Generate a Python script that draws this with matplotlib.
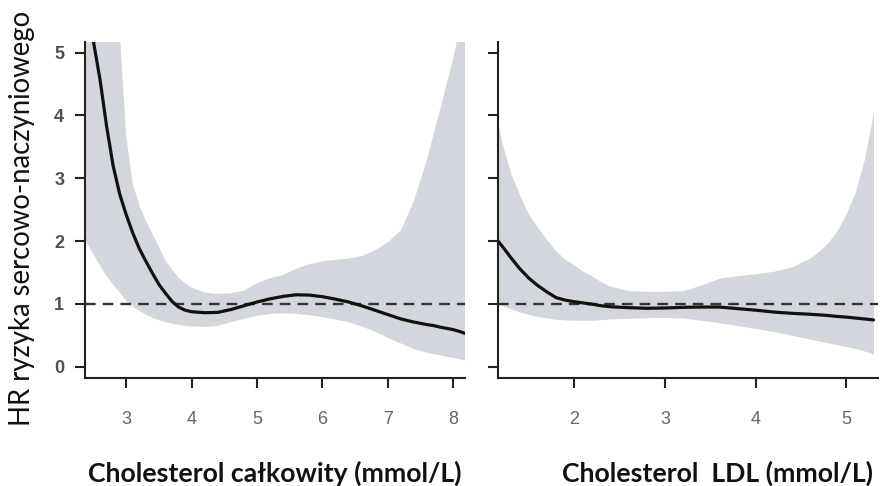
import matplotlib
matplotlib.use("Agg")
import matplotlib.pyplot as plt
from matplotlib import font_manager as fm

# ---- Total cholesterol (mmol/L): hazard ratio with 95% CI ----
tc_x = [2.37, 2.45, 2.5, 2.6, 2.7, 2.8, 2.9,
        3.0, 3.1, 3.2, 3.3, 3.4, 3.5, 3.6, 3.7, 3.8, 3.9,
        4.0, 4.2, 4.4, 4.6, 4.8, 5.0, 5.2, 5.4, 5.6, 5.8, 6.0, 6.2, 6.4, 6.6,
        6.8, 7.0, 7.2, 7.4, 7.6,
        7.7, 7.8, 7.9, 8.0, 8.1, 8.18]
tc_hr = [5.95, 5.47, 5.17, 4.57, 3.83, 3.20, 2.75,
         2.42, 2.13, 1.88, 1.68, 1.49, 1.31, 1.17, 1.04, 0.95, 0.90,
         0.875, 0.86, 0.865, 0.91, 0.97, 1.03, 1.08, 1.12, 1.145, 1.14, 1.115, 1.075, 1.03, 0.97,
         0.90, 0.83, 0.76, 0.71, 0.67,
         0.655, 0.63, 0.61, 0.59, 0.56, 0.53]
tc_lo = [2.02, 1.88, 1.79, 1.61, 1.44, 1.31, 1.18,
         1.05, 0.96, 0.89, 0.83, 0.78, 0.74, 0.71, 0.685, 0.665, 0.65,
         0.64, 0.635, 0.65, 0.71, 0.76, 0.81, 0.84, 0.85, 0.84, 0.82, 0.79, 0.75, 0.71, 0.64,
         0.56, 0.46, 0.37, 0.28, 0.22,
         0.20, 0.18, 0.16, 0.14, 0.12, 0.10]
tc_hi = [12.0, 10.8, 10.0, 8.8, 7.6, 6.6, 5.35,
         3.67, 2.92, 2.57, 2.33, 2.12, 1.91, 1.69, 1.55, 1.42, 1.33,
         1.26, 1.18, 1.16, 1.17, 1.21, 1.33, 1.41, 1.46, 1.56, 1.63, 1.68, 1.70, 1.72, 1.76,
         1.85, 1.98, 2.17, 2.64, 3.30,
         3.70, 4.10, 4.50, 4.90, 5.40, 6.00]

# ---- LDL cholesterol (mmol/L): hazard ratio with 95% CI ----
ldl_x = [1.16, 1.2, 1.3, 1.4, 1.5, 1.6, 1.7, 1.8, 1.9, 2.0, 2.1, 2.2, 2.3, 2.4,
         2.6, 2.8, 3.0, 3.2, 3.4, 3.6, 3.8, 4.0, 4.2, 4.4, 4.6,
         4.7, 4.8, 4.9, 5.0, 5.1, 5.2, 5.3]
ldl_hr = [2.00, 1.93, 1.74, 1.56, 1.41, 1.29, 1.19, 1.10, 1.06, 1.035, 1.015, 0.995, 0.97, 0.955,
          0.94, 0.93, 0.935, 0.945, 0.95, 0.95, 0.925, 0.90, 0.87, 0.85, 0.835,
          0.825, 0.815, 0.80, 0.79, 0.775, 0.76, 0.745]
ldl_lo = [1.00, 0.98, 0.92, 0.87, 0.83, 0.80, 0.775, 0.755, 0.745, 0.74, 0.74, 0.74, 0.75, 0.76,
          0.77, 0.78, 0.785, 0.775, 0.74, 0.70, 0.655, 0.61, 0.56, 0.50, 0.44,
          0.41, 0.38, 0.35, 0.32, 0.29, 0.25, 0.20]
ldl_hi = [3.90, 3.58, 3.08, 2.73, 2.42, 2.21, 2.02, 1.84, 1.71, 1.62, 1.52, 1.44, 1.35, 1.28,
          1.21, 1.20, 1.20, 1.21, 1.30, 1.41, 1.45, 1.48, 1.52, 1.59, 1.73,
          1.84, 1.98, 2.17, 2.44, 2.78, 3.30, 4.05]

tc_ticks = [3, 4, 5, 6, 7, 8]
ldl_ticks = [2, 3, 4, 5]
hr_ticks = [0, 1, 2, 3, 4, 5]

y_title = "HR ryzyka sercowo-naczyniowego"
tc_title = "Cholesterol całkowity (mmol/L)"
ldl_title = "Cholesterol  LDL (mmol/L)"


def pick(families, weight="normal"):
    for fam in families:
        try:
            fm.findfont(fm.FontProperties(family=fam, weight=weight),
                        fallback_to_default=False)
            return fam
        except Exception:
            continue
    return "DejaVu Sans"


narrow = pick(["Liberation Sans Narrow", "Liberation Sans", "Roboto"])
title_font = pick(["Lato", "Open Sans", "Noto Sans"], "bold")

W, H = 880, 486
fig = plt.figure(figsize=(W / 100, H / 100), dpi=100)

band_col = "#d4d6dd"
ylim = (-0.18, 5.17)


def panel(rect, x, hr, lo, hi, xlim, xticks, show_ylabels):
    ax = fig.add_axes(rect)
    ax.fill_between(x, lo, hi, color=band_col, lw=0, zorder=1)
    ax.axhline(1.0, color="#333333", lw=1.7, dashes=(4.5, 3), zorder=2)
    ax.plot(x, hr, color="#111111", lw=2.3, solid_capstyle="round", zorder=3)
    ax.set_xlim(*xlim)
    ax.set_ylim(*ylim)
    ax.set_xticks(xticks)
    ax.set_yticks(hr_ticks)
    for s in ("top", "right"):
        ax.spines[s].set_visible(False)
    for s in ("left", "bottom"):
        ax.spines[s].set_linewidth(1.5)
        ax.spines[s].set_color("#222222")
    ax.tick_params(axis="both", direction="out", length=7.5, width=1.5,
                   color="#222222")
    ax.tick_params(axis="x", pad=16, labelsize=13, labelcolor="#666666")
    ax.tick_params(axis="y", pad=7.5, labelsize=13, labelcolor="#505050")
    for t in ax.get_xticklabels():
        t.set_fontfamily(narrow)
    if show_ylabels:
        for t in ax.get_yticklabels():
            t.set_fontfamily(narrow)
            t.set_fontweight("bold")
    else:
        ax.set_yticklabels([])
    return ax


bottom = 1 - 378 / H
height = 336 / H
panel([85 / W, bottom, 380 / W, height], tc_x, tc_hr, tc_lo, tc_hi,
      (2.37, 8.18), tc_ticks, True)
panel([498 / W, bottom, 380 / W, height], ldl_x, ldl_hr, ldl_lo, ldl_hi,
      (1.16, 5.35), ldl_ticks, False)

# axis titles
t_y = fig.text(30 / W, 1 - 218.5 / H, y_title, rotation=90, rotation_mode="anchor",
               ha="center", va="baseline", fontsize=16, family=title_font,
               color="#111111")
t_tc = fig.text(88 / W, 1 - 482 / H, tc_title, ha="left", va="baseline",
                fontsize=16, family=title_font, fontweight="bold", color="#111111")
t_ldl = fig.text(562 / W, 1 - 482 / H, ldl_title, ha="left", va="baseline",
                 fontsize=16, family=title_font, fontweight="bold", color="#111111")

# size the titles to the span they occupy on the canvas
r = fig.canvas.get_renderer()
scale = 311 / t_ldl.get_window_extent(r).width
for txt in (t_tc, t_ldl):
    txt.set_fontsize(16 * scale)
t_y.set_fontsize(16 * 417 / t_y.get_window_extent(r).height)

fig.savefig("out.png", dpi=100)
